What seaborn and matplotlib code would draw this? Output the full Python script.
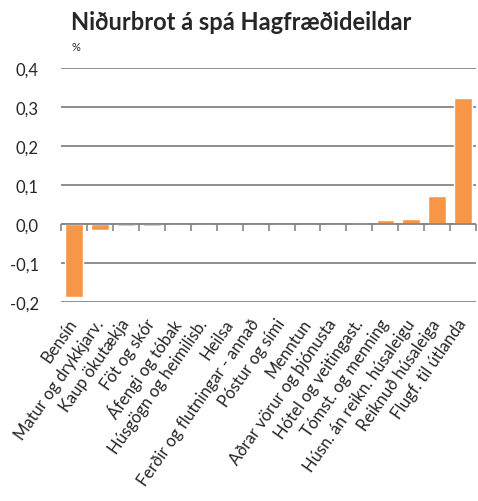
import pandas as pd
import matplotlib.pyplot as plt
import seaborn as sns

categories = ["Bensín", "Matur og drykkjarv.", "Kaup ökutækja", "Föt og skór",
              "Áfengi og tóbak", "Húsgögn og heimilisb.", "Heilsa",
              "Ferðir og flutningar - annað", "Póstur og sími", "Menntun",
              "Aðrar vörur og þjónusta", "Hótel og veitingast.",
              "Tómst. og menning", "Húsn. án reikn. húsaleigu",
              "Reiknuð húsaleiga", "Flugf. til útlanda"]
values = [-0.186, -0.014, -0.005, -0.004, 0.0, 0.0, 0.0, 0.0, 0.0, 0.0,
          0.0, 0.002, 0.011, 0.013, 0.071, 0.322]
yticks = [-0.2, -0.1, 0.0, 0.1, 0.2, 0.3, 0.4]

df = pd.DataFrame({"cat": categories, "val": values})

sns.set_style("white")
plt.rcParams["font.family"] = ["Lato", "DejaVu Sans"]

fig = plt.figure(figsize=(4.78, 5.02), dpi=100)
ax = fig.add_axes([0.128, 0.396, 0.868, 0.4665])
sns.barplot(data=df, x="cat", y="val", color="#F79646", saturation=1,
            width=0.68, ax=ax)

ax.set_ylim(-0.2, 0.4)
ax.set_xlim(-0.5, len(df) - 0.5)
ax.set_yticks(yticks)
ax.set_yticklabels([f"{t:.1f}".replace(".", ",") for t in yticks], fontsize=12)
ax.tick_params(axis="y", length=0, pad=16)
ax.grid(axis="y", color="#868686", linewidth=1.3)
ax.set_axisbelow(True)
for s in ax.spines.values():
    s.set_visible(False)

ax.set_xlabel("")
ax.set_ylabel("")
ax.tick_params(axis="x", length=0, pad=13)
ax.set_xticks(range(len(df)))
ax.set_xticklabels(df["cat"], rotation=55, ha="right", va="center",
                   rotation_mode="anchor", fontsize=12)

# category axis crossing at zero, with tick marks between categories
ax.axhline(0, color="#868686", linewidth=1.3)
sec = ax.secondary_xaxis(1 / 3)
sec.set_xticks([i - 0.5 for i in range(len(df) + 1)])
sec.set_xticklabels([])
sec.tick_params(axis="x", direction="out", length=5, width=1.2, color="#868686")
sec.spines["bottom"].set_visible(False)

fig.text(0.505, 0.955, "Niðurbrot á spá Hagfræðideildar", ha="center", va="center",
         fontsize=17, fontweight="bold")
fig.text(0.15, 0.906, "%", ha="left", va="center", fontsize=8)

plt.savefig("out.png", dpi=100)
plt.close()
